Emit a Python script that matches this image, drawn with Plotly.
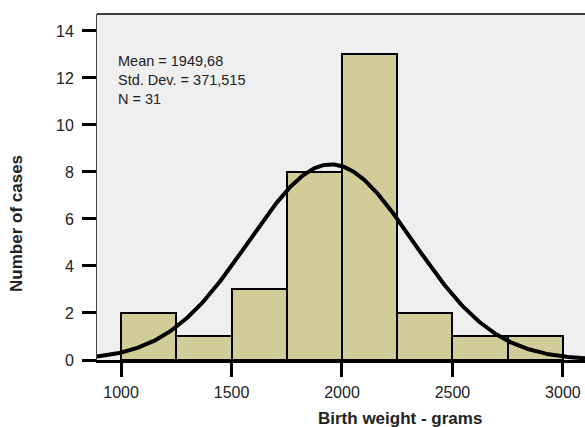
import numpy as np
import plotly.graph_objects as go

bin_starts = [1000, 1250, 1500, 1750, 2000, 2250, 2500, 2750]
counts = [2, 1, 3, 8, 13, 2, 1, 1]
bin_width = 250
mean_val = 1949.68
sd_val = 371.515
n_val = 31
x_ticks = [1000, 1500, 2000, 2500, 3000]
y_ticks = [0, 2, 4, 6, 8, 10, 12, 14]

xr = [891, 3100]
yr = [0, 14.72]

fig = go.Figure()
fig.add_trace(go.Bar(
    x=[s + bin_width / 2 for s in bin_starts], y=counts, width=bin_width,
    marker=dict(color="#D2CD98", line=dict(color="black", width=2)),
    hoverinfo="skip"))

xs = np.linspace(xr[0], xr[1], 400)
ys = n_val * bin_width * np.exp(-0.5 * ((xs - mean_val) / sd_val) ** 2) / (sd_val * np.sqrt(2 * np.pi))
fig.add_trace(go.Scatter(x=xs, y=ys, mode="lines", line=dict(color="black", width=4), hoverinfo="skip"))

font = "Liberation Sans, Arial, sans-serif"
fig.update_layout(
    width=585, height=427, showlegend=False,
    margin=dict(l=97, r=0, t=14, b=67),
    paper_bgcolor="white", plot_bgcolor="#EFEFEF",
    font=dict(family=font, size=14, color="#222"),
    bargap=0,
    xaxis=dict(range=xr, tickvals=x_ticks, ticks="outside", ticklen=14, tickwidth=3,
               tickcolor="black", showgrid=False, zeroline=False, showline=True,
               linecolor="black", linewidth=3, ticklabelstandoff=2,
               tickfont=dict(size=16, family=font, color="#222")),
    yaxis=dict(range=yr, tickvals=y_ticks, ticks="outside", ticklen=14, tickwidth=3,
               tickcolor="black", showgrid=False, zeroline=False, showline=True,
               linecolor="#444", linewidth=1, ticklabelstandoff=5,
               tickfont=dict(size=16, family=font, color="#222")),
)
fig.add_shape(type="line", xref="paper", yref="paper", x0=0, x1=1, y0=1, y1=1,
              line=dict(color="black", width=1.5))
fig.add_annotation(xref="paper", yref="paper", x=0.039, y=0.892, xanchor="left", yanchor="top",
                   align="left", showarrow=False,
                   text="Mean = 1949,68<br>Std. Dev. = 371,515<br>N = 31",
                   font=dict(size=14.5, family=font, color="#222"))
fig.add_annotation(xref="paper", yref="paper", x=0.62, y=-0.168, xanchor="center", yanchor="middle",
                   showarrow=False, text="<b>Birth weight - grams</b>",
                   font=dict(size=17, family=font, color="#222"))
fig.add_annotation(xref="paper", yref="paper", x=-0.164, y=0.396, xanchor="center", yanchor="middle",
                   showarrow=False, textangle=-90, text="<b>Number of cases</b>",
                   font=dict(size=17, family=font, color="#222"))
fig.write_html("out.html")
